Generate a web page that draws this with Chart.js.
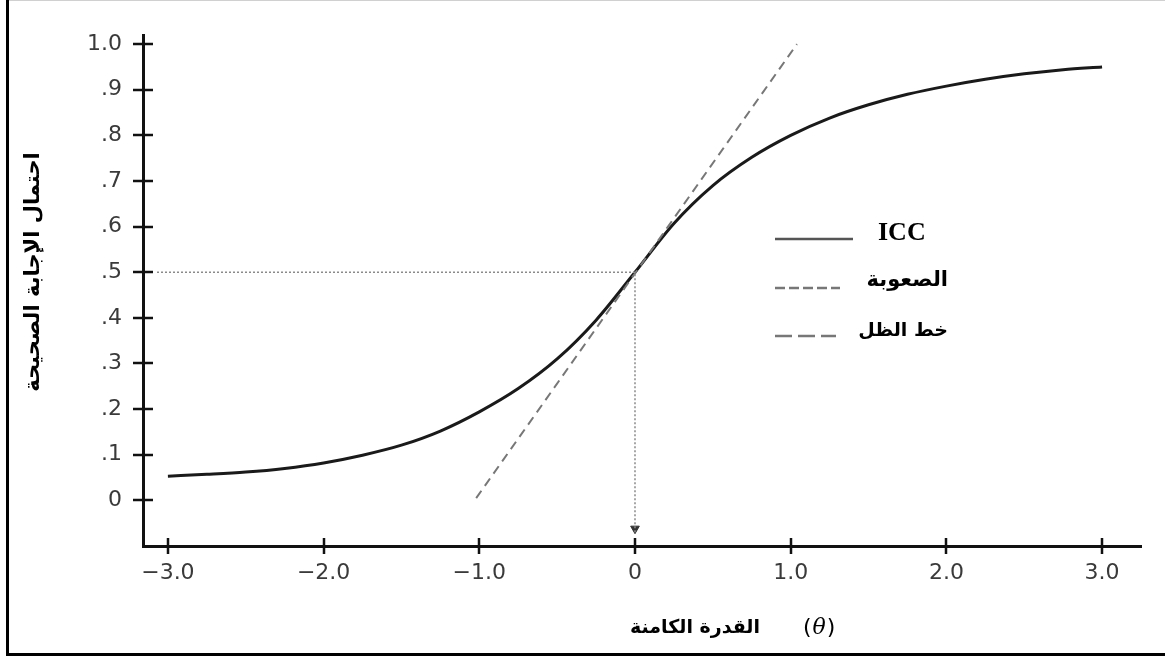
<!DOCTYPE html>
<html>
<head>
<meta charset="utf-8">
<script src="https://cdn.jsdelivr.net/npm/chart.js@4.4.1/dist/chart.umd.min.js"></script>
<style>
  html, body { margin: 0; padding: 0; background: #fff; }
  #wrap { width: 1165px; height: 656px; position: relative; }
</style>
</head>
<body>
<div id="wrap"><canvas id="c" width="1165" height="656"></canvas></div>
<script>
// ---- data ----
const thetaValues = [-3, -2.75, -2.5, -2.25, -2, -1.75, -1.5, -1.25, -1, -0.75, -0.5, -0.25, 0,
                     0.25, 0.5, 0.75, 1, 1.25, 1.5, 1.75, 2, 2.25, 2.5, 2.75, 3];
const iccValues   = [0.053, 0.057, 0.062, 0.070, 0.082, 0.099, 0.121, 0.152, 0.194, 0.245, 0.310, 0.395, 0.50,
                     0.607, 0.690, 0.752, 0.800, 0.838, 0.867, 0.890, 0.908, 0.923, 0.935, 0.944, 0.950];

const tangentTheta  = [-1.02, 1.04];
const tangentValues = [0.005, 1.0];

const guideTheta  = [-3.07, 0, 0];
const guideValues = [0.5, 0.5, -0.07];

const arrowTheta = [0];
const arrowValues = [-0.062];

const xTickValues = [-3, -2, -1, 0, 1, 2, 3];
const xTickLabels = ['\u22123.0', '\u22122.0', '\u22121.0', '0', '1.0', '2.0', '3.0'];
const yTickValues = [0, 0.1, 0.2, 0.3, 0.4, 0.5, 0.6, 0.7, 0.8, 0.9, 1.0];
const yTickLabels = ['0', '.1', '.2', '.3', '.4', '.5', '.6', '.7', '.8', '.9', '1.0'];

const legendLabels = ['ICC', 'الصعوبة', 'خط الظل'];
const yTitle = 'احتمال الإجابة الصحيحة';
const xTitleArabic = 'القدرة الكامنة';
const xTitleSymbol = 'θ';

const pts = (xs, ys) => xs.map((x, i) => ({ x: x, y: ys[i] }));

// ---- plugins ----
const framePlugin = {
  id: 'frame',
  beforeDraw(chart) {
    const ctx = chart.ctx;
    ctx.save();
    ctx.fillStyle = '#fff';
    ctx.fillRect(0, 0, chart.width, chart.height);
    ctx.fillStyle = '#d0d0d0';
    ctx.fillRect(6, 0, chart.width - 6, 1);
    ctx.fillStyle = '#000';
    ctx.fillRect(6, 0, 3, chart.height);
    ctx.fillRect(6, chart.height - 3, chart.width - 6, 3);
    ctx.restore();
  }
};

const crossTicksPlugin = {
  id: 'crossTicks',
  afterDraw(chart) {
    const ctx = chart.ctx;
    const xs = chart.scales.x, ys = chart.scales.y;
    const ca = chart.chartArea;
    ctx.save();
    ctx.strokeStyle = '#111';
    ctx.lineWidth = 2.5;
    ctx.beginPath();
    xTickValues.forEach(v => {
      const px = Math.round(xs.getPixelForValue(v));
      ctx.moveTo(px, ca.bottom - 8);
      ctx.lineTo(px, ca.bottom + 8);
    });
    yTickValues.forEach(v => {
      const py = Math.round(ys.getPixelForValue(v));
      ctx.moveTo(ca.left - 10, py);
      ctx.lineTo(ca.left + 10, py);
    });
    ctx.stroke();
    ctx.restore();
  }
};

const titlesLegendPlugin = {
  id: 'titlesLegend',
  afterDraw(chart) {
    const ctx = chart.ctx;
    ctx.save();
    // y-axis title (rotated)
    ctx.translate(34, 272);
    ctx.rotate(-Math.PI / 2);
    ctx.fillStyle = '#000';
    ctx.font = 'bold 21px "DejaVu Sans"';
    ctx.textAlign = 'center';
    ctx.textBaseline = 'middle';
    ctx.fillText(yTitle, 0, 0);
    ctx.restore();

    ctx.save();
    // x-axis title
    ctx.fillStyle = '#000';
    ctx.textBaseline = 'middle';
    ctx.font = 'bold 19px "DejaVu Sans"';
    ctx.textAlign = 'right';
    ctx.fillText(xTitleArabic, 760, 628);
    ctx.font = '22px "DejaVu Sans"';
    ctx.textAlign = 'left';
    ctx.fillText('(', 803, 628);
    const w1 = ctx.measureText('(').width;
    ctx.font = 'italic 22px "DejaVu Serif"';
    ctx.fillText(xTitleSymbol, 803 + w1 + 1, 628);
    const w2 = ctx.measureText(xTitleSymbol).width;
    ctx.font = '22px "DejaVu Sans"';
    ctx.fillText(')', 803 + w1 + w2 + 2, 628);

    // legend
    const rows = [
      { y: 239, dash: [], color: '#555', x2: 853, ty: 233, size: 20 },
      { y: 288, dash: [10, 4], color: '#777', x2: 840, ty: 281, size: 21 },
      { y: 336, dash: [17, 6], color: '#777', x2: 836, ty: 331, size: 19 }
    ];
    rows.forEach((r, i) => {
      ctx.beginPath();
      ctx.setLineDash(r.dash);
      ctx.strokeStyle = r.color;
      ctx.lineWidth = 2.5;
      ctx.moveTo(775, r.y);
      ctx.lineTo(r.x2, r.y);
      ctx.stroke();
      ctx.setLineDash([]);
      ctx.fillStyle = '#000';
      if (i === 0) {
        ctx.font = 'bold 26px "Liberation Serif"';
        ctx.textAlign = 'left';
        ctx.fillText(legendLabels[i], 878, r.ty);
      } else {
        ctx.font = 'bold ' + r.size + 'px "DejaVu Sans"';
        ctx.textAlign = 'right';
        ctx.fillText(legendLabels[i], 948, r.ty);
      }
    });
    ctx.restore();
  }
};

const tickFont = { family: '"DejaVu Sans"', size: 22 };

new Chart(document.getElementById('c'), {
  type: 'scatter',
  data: {
    datasets: [
      {
        label: 'guide',
        data: pts(guideTheta, guideValues),
        showLine: true,
        borderColor: '#8a8a8a',
        borderWidth: 1.5,
        borderDash: [2, 2],
        pointRadius: 0,
        fill: false
      },
      {
        label: 'arrow',
        data: pts(arrowTheta, arrowValues),
        showLine: false,
        pointStyle: 'triangle',
        rotation: 180,
        pointRadius: 5,
        backgroundColor: '#333',
        borderColor: '#333',
        borderWidth: 1
      },
      {
        label: legendLabels[2],
        data: pts(tangentTheta, tangentValues),
        showLine: true,
        borderColor: '#777',
        borderWidth: 2,
        borderDash: [9, 6],
        pointRadius: 0,
        fill: false
      },
      {
        label: legendLabels[0],
        data: pts(thetaValues, iccValues),
        showLine: true,
        borderColor: '#1a1a1a',
        borderWidth: 3,
        cubicInterpolationMode: 'monotone',
        pointRadius: 0,
        fill: false
      }
    ]
  },
  options: {
    responsive: false,
    animation: false,
    devicePixelRatio: 1,
    layout: { padding: { top: 35, right: 24, left: 0, bottom: 0 } },
    plugins: {
      legend: { display: false },
      tooltip: { enabled: false },
      title: { display: false }
    },
    scales: {
      x: {
        type: 'linear',
        min: -3.16,
        max: 3.25,
        afterBuildTicks(scale) { scale.ticks = xTickValues.map(v => ({ value: v })); },
        afterFit(scale) { scale.height = 110; },
        grid: { display: false, drawTicks: false },
        border: { display: true, color: '#111', width: 3 },
        ticks: {
          padding: 14,
          color: '#3a3a3a',
          font: tickFont,
          maxRotation: 0,
          autoSkip: false,
          callback(v) { const i = xTickValues.indexOf(v); return i >= 0 ? xTickLabels[i] : ''; }
        }
      },
      y: {
        type: 'linear',
        min: -0.1,
        max: 1.02,
        afterBuildTicks(scale) { scale.ticks = yTickValues.map(v => ({ value: v })); },
        afterFit(scale) { scale.width = 143; },
        grid: { display: false, drawTicks: false },
        border: { display: true, color: '#111', width: 3 },
        ticks: {
          padding: 21,
          color: '#3a3a3a',
          font: tickFont,
          autoSkip: false,
          callback(v) {
            const i = yTickValues.findIndex(t => Math.abs(t - v) < 1e-9);
            return i >= 0 ? yTickLabels[i] : '';
          }
        }
      }
    }
  },
  plugins: [framePlugin, crossTicksPlugin, titlesLegendPlugin]
});
</script>
</body>
</html>
